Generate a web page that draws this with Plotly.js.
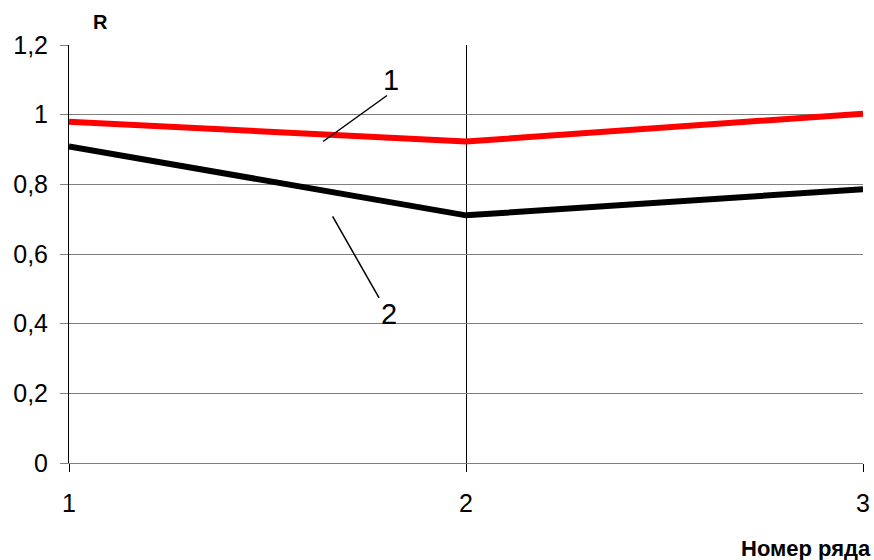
<!DOCTYPE html>
<html>
<head>
<meta charset="utf-8">
<script src="https://cdn.plot.ly/plotly-3.0.1.min.js"></script>
<style>html,body{margin:0;padding:0;background:#fff;}#chart{width:874px;height:560px;}</style>
</head>
<body>
<div id="chart"></div>
<script>
const rowNumbers = [1, 2, 3];
const series1 = [0.98, 0.923, 1.003];
const series2 = [0.909, 0.711, 0.786];
const yTicks = [0, 0.2, 0.4, 0.6, 0.8, 1, 1.2];
const yTickText = ["0", "0,2", "0,4", "0,6", "0,8", "1", "1,2"];
const xTicks = [1, 2, 3];
const seriesLabels = ["1", "2"];

const font = "Liberation Sans, Arial, sans-serif";

const traces = [
  {x: rowNumbers, y: series1, mode: "lines", line: {color: "#ff0000", width: 6}, name: seriesLabels[0], cliponaxis: false},
  {x: rowNumbers, y: series2, mode: "lines", line: {color: "#000000", width: 6}, name: seriesLabels[1], cliponaxis: false}
];

const pw = 874 - 69 - 11, ph = 560 - 45 - 97;

const layout = {
  width: 874, height: 560,
  margin: {l: 69, r: 11, t: 45, b: 97, pad: 0},
  paper_bgcolor: "#fff", plot_bgcolor: "#fff",
  showlegend: false,
  font: {family: font, color: "#000", size: 25},
  xaxis: {
    range: [1, 3], tickvals: xTicks, ticktext: xTicks.map(String),
    showgrid: true, gridcolor: "#000", gridwidth: 1,
    ticks: "outside", ticklen: 8, tickcolor: "#000", tickwidth: 1,
    showline: true, linecolor: "#808080", linewidth: 1,
    zeroline: false, ticklabelstandoff: 10,
    tickfont: {family: font, size: 25, color: "#000"}
  },
  yaxis: {
    range: [0, 1.2], tickvals: yTicks, ticktext: yTickText,
    showgrid: true, gridcolor: "#808080", gridwidth: 1,
    ticks: "outside", ticklen: 8, tickcolor: "#808080", tickwidth: 1,
    showline: true, linecolor: "#000", linewidth: 1,
    zeroline: false, ticklabelstandoff: 7,
    tickfont: {family: font, size: 25, color: "#000"}
  },
  shapes: [
    {type: "line", xref: "x", yref: "y", x0: 1.640, y0: 0.923, x1: 1.801, y1: 1.055, line: {color: "#000", width: 1.5}},
    {type: "line", xref: "x", yref: "y", x0: 1.664, y0: 0.708, x1: 1.781, y1: 0.474, line: {color: "#000", width: 1.5}}
  ],
  annotations: [
    {x: 1.810, y: 1.100, xref: "x", yref: "y", xanchor: "center", yanchor: "middle", text: seriesLabels[0], showarrow: false, font: {family: font, size: 29, color: "#000"}},
    {x: 1.806, y: 0.428, xref: "x", yref: "y", xanchor: "center", yanchor: "middle", text: seriesLabels[1], showarrow: false, font: {family: font, size: 29, color: "#000"}},
    {x: (100 - 69) / pw, y: (463 - 22) / ph, xref: "paper", yref: "paper", xanchor: "center", yanchor: "middle", text: "<b>R</b>", showarrow: false, font: {family: font, size: 20, color: "#000"}},
    {x: (806 - 69) / pw, y: (463 - 548) / ph, xref: "paper", yref: "paper", xanchor: "center", yanchor: "middle", text: "<b>Номер ряда</b>", showarrow: false, font: {family: font, size: 22, color: "#000"}}
  ]
};

Plotly.newPlot("chart", traces, layout, {displayModeBar: false, staticPlot: true});
</script>
</body>
</html>
